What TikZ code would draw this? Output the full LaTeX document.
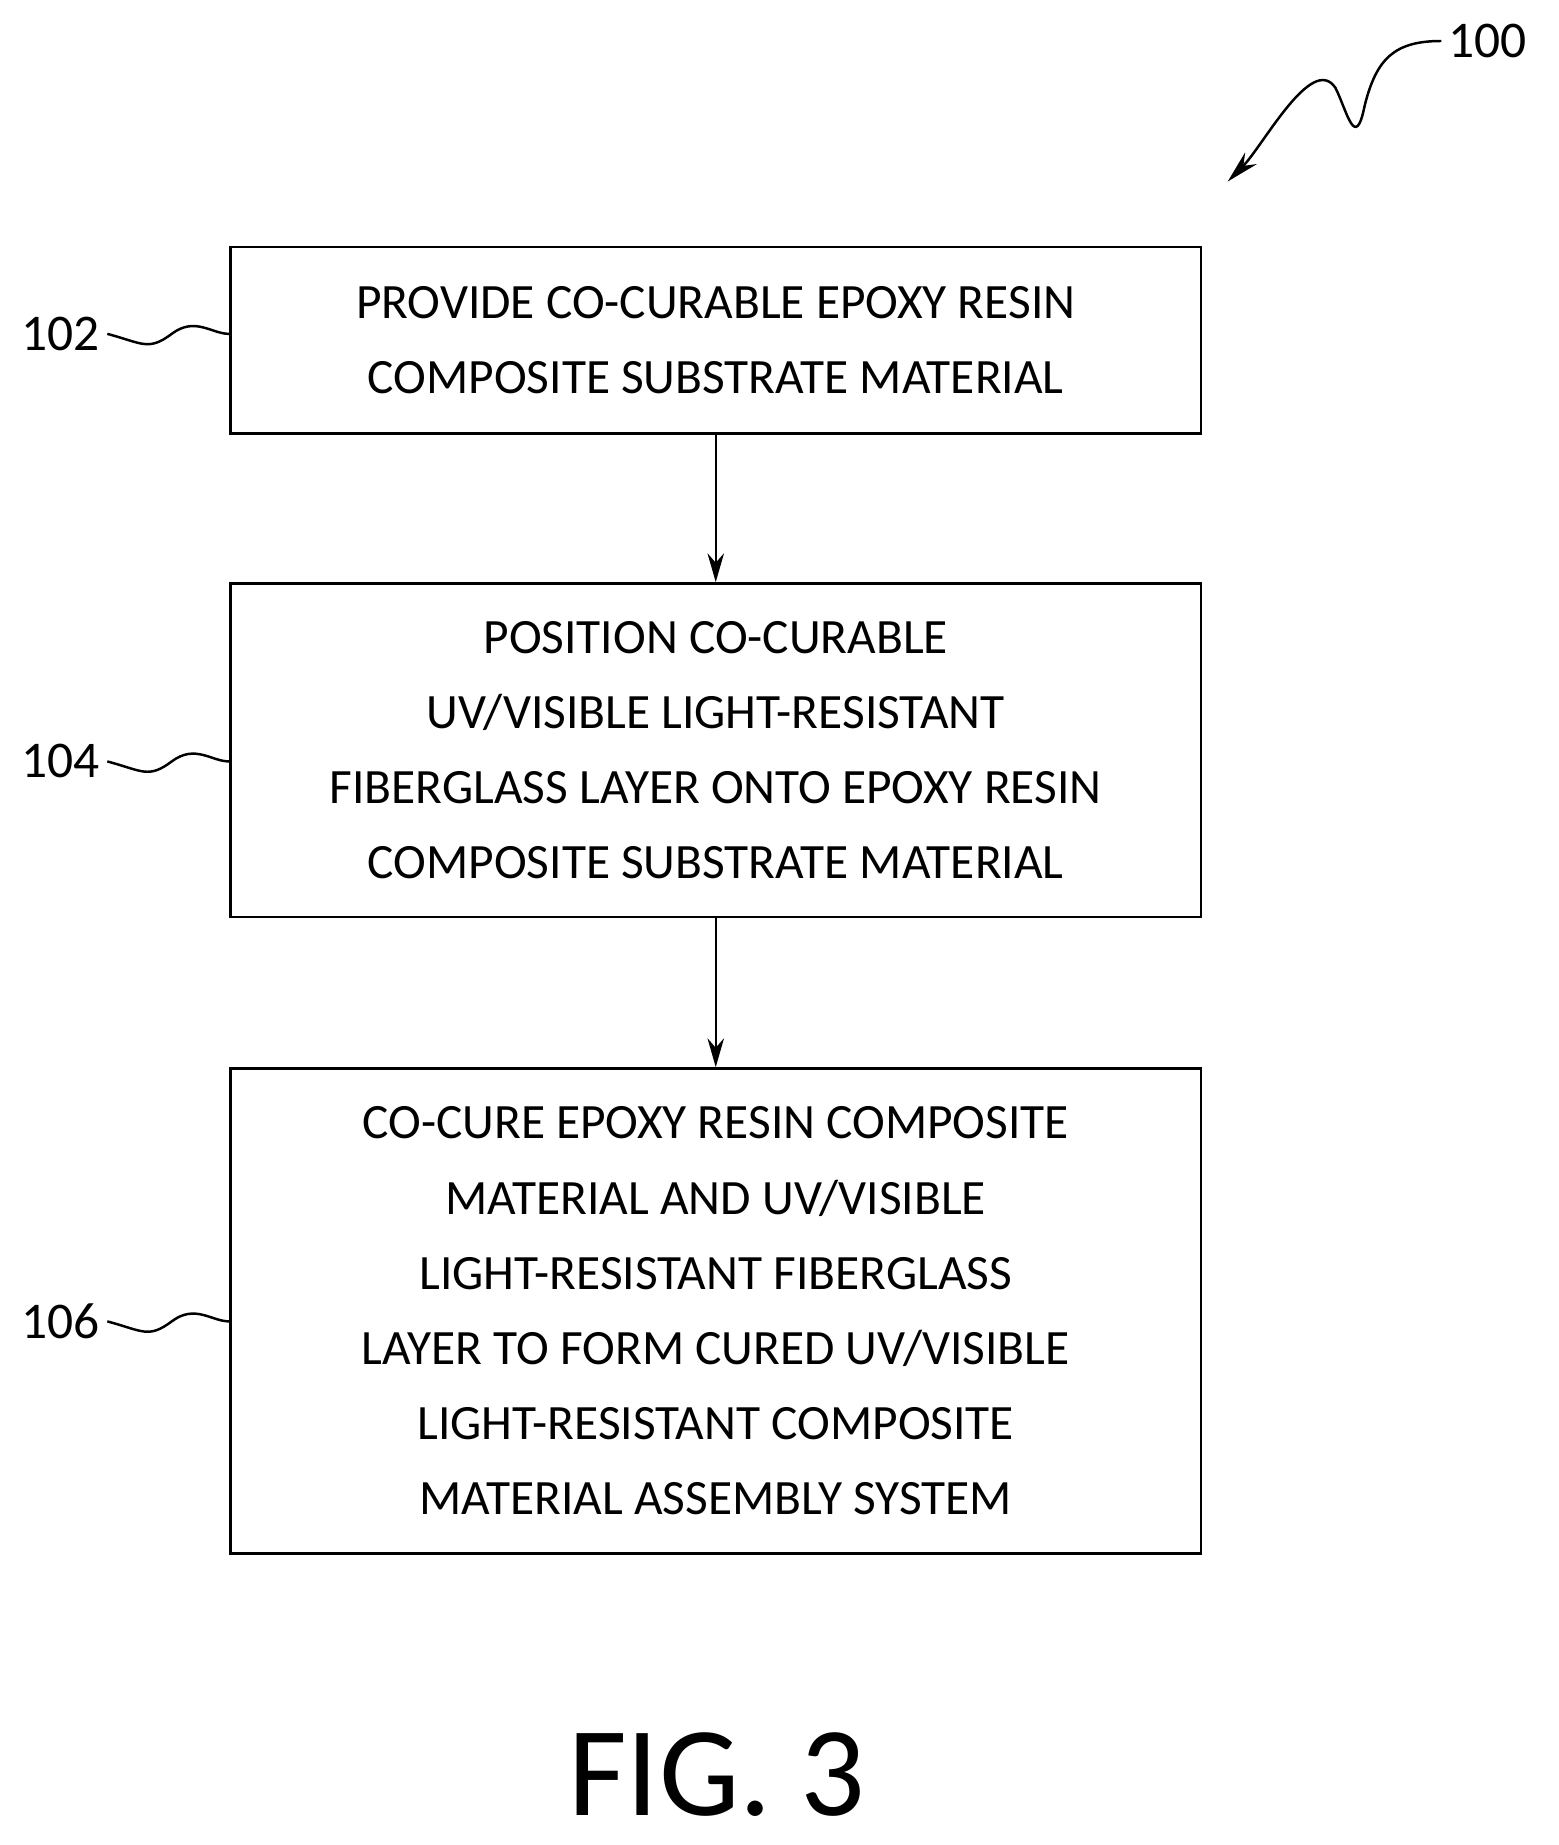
\documentclass[tikz,border=0pt]{standalone}
\usepackage{fontspec}
\setmainfont{Carlito}
\usetikzlibrary{positioning, arrows.meta}

\tikzset{
  stepbox/.style={draw, line width=1.2pt, minimum width=16.58cm, align=center,
    font=\fontsize{24}{36.5}\selectfont, inner sep=0pt},
  ref/.style={font=\fontsize{25}{30}\selectfont},
  flow/.style={-{Stealth[length=14pt,width=8pt]}, line width=1.2pt},
  lead/.style={line width=1.2pt}
}

\begin{document}
\begin{tikzpicture}[x=0.02cm, y=-0.02cm]
  \useasboundingbox (0,0) rectangle (1330,1575);

  % steps
  \node[stepbox, minimum height=3.18cm] (s102) at (611,290.5)
    {PROVIDE CO-CURABLE EPOXY RESIN\\COMPOSITE SUBSTRATE MATERIAL};
  \node[stepbox, minimum height=5.7cm] (s104) at (611,640.5)
    {POSITION CO-CURABLE\\UV/VISIBLE LIGHT-RESISTANT\\FIBERGLASS LAYER ONTO EPOXY RESIN\\COMPOSITE SUBSTRATE MATERIAL};
  \node[stepbox, minimum height=8.28cm] (s106) at (611,1119)
    {CO-CURE EPOXY RESIN COMPOSITE\\MATERIAL AND UV/VISIBLE\\LIGHT-RESISTANT FIBERGLASS\\LAYER TO FORM CURED UV/VISIBLE\\LIGHT-RESISTANT COMPOSITE\\MATERIAL ASSEMBLY SYSTEM};

  \draw[flow] (s102) -- (s104);
  \draw[flow] (s104) -- (s106);

  % reference numerals
  \node[ref] (n102) at (52,285) {102};
  \node[ref] (n104) at (52,650) {104};
  \node[ref] (n106) at (52,1128) {106};
  \foreach \n/\s in {n102/s102, n104/s104, n106/s106}
    \draw[lead] (\n.east) .. controls +(30,8) and +(-20,15) .. ++(55,0)
      .. controls +(20,-15) and +(-15,0) .. (\s.west |- \n.east);

  \node[ref] (n100) at (1270,35) {100};
  \coordinate (tip) at (1048,155);
  \draw[lead, -{Stealth[length=16pt,width=8pt]}] (n100.west)
    .. controls +(-40,0) and +(10,-40) .. (1165,90)
    .. controls +(-8,40) and +(10,20) .. (1140,75)
    .. controls +(-20,-30) and +(30,-30) .. (tip);

  \node[font=\fontsize{62}{70}\selectfont] (fig) at (612,1515) {FIG. 3};
\end{tikzpicture}
\end{document}
